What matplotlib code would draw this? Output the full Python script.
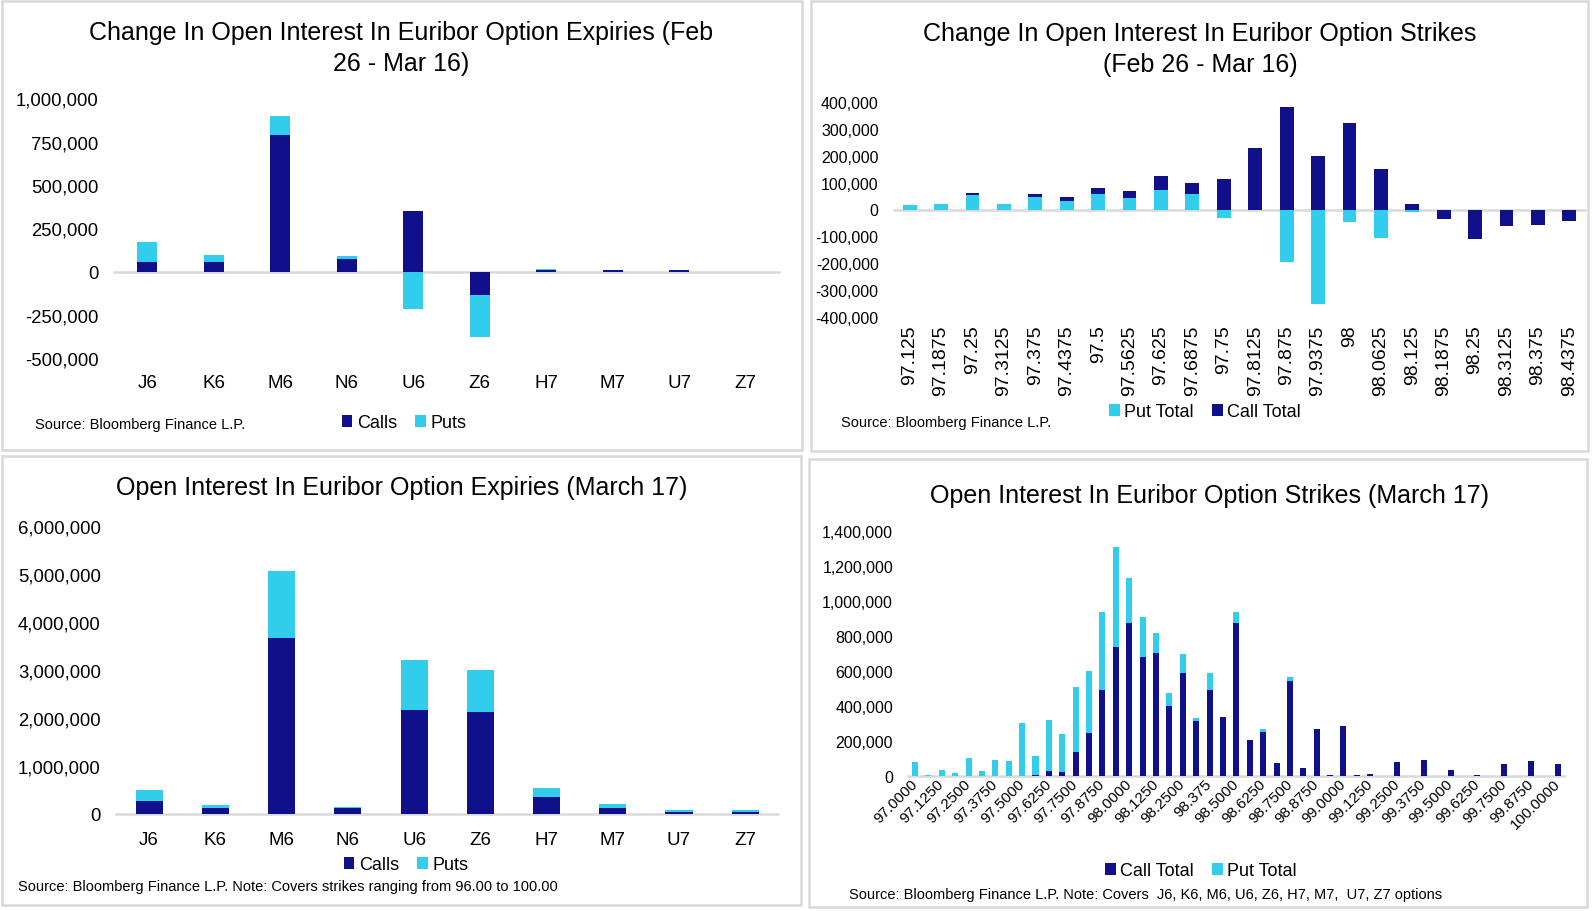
import numpy as np
import matplotlib
matplotlib.use("Agg")
import matplotlib.pyplot as plt
from matplotlib.patches import Rectangle, Patch
from matplotlib.ticker import FuncFormatter

plt.rcParams['font.family'] = ['Liberation Sans', 'DejaVu Sans']

# ---- data ----
expiries = ['J6', 'K6', 'M6', 'N6', 'U6', 'Z6', 'H7', 'M7', 'U7', 'Z7']

# change in open interest by expiry (Feb 26 - Mar 16)
chg_calls = [56000, 56000, 788000, 73000, 350000, -135000, 12000, 7000, 7000, 0]
chg_puts = [115000, 40000, 110000, 17000, -215000, -242000, 5000, 5000, 5000, 0]

# change in open interest by strike (Feb 26 - Mar 16)
chg_strikes = ['97.125', '97.1875', '97.25', '97.3125', '97.375', '97.4375', '97.5',
               '97.5625', '97.625', '97.6875', '97.75', '97.8125', '97.875', '97.9375',
               '98', '98.0625', '98.125', '98.1875', '98.25', '98.3125', '98.375', '98.4375']
chg_put_total = [15000, 19000, 52000, 19000, 48000, 33000, 59000, 41000, 74000, 56000,
                 -33000, 0, -193000, -349000, -48000, -104000, -11000, 0, 0, 0, 0, 0]
chg_call_total = [0, 0, 11000, 0, 11000, 12000, 19000, 26000, 49000, 41000,
                  115000, 230000, 379000, 197000, 320000, 152000, 19000, -37000,
                  -111000, -63000, -59000, -44000]

# open interest by expiry (March 17)
oi_calls = [270000, 125000, 3662000, 125000, 2164000, 2122000, 354000, 125000, 42000, 42000]
oi_puts = [230000, 62000, 1393000, 21000, 1040000, 874000, 187000, 83000, 41000, 41000]

# open interest by strike (March 17)
oi_strikes = ['97.0000', '97.0625', '97.1250', '97.1875', '97.2500', '97.3125', '97.3750',
              '97.4375', '97.5000', '97.5625', '97.6250', '97.6875', '97.7500', '97.8125',
              '97.8750', '97.9375', '98.0000', '98.0625', '98.1250', '98.1875', '98.2500',
              '98.3125', '98.375', '98.4375', '98.5000', '98.5625', '98.6250', '98.6875',
              '98.7500', '98.8125', '98.8750', '98.9375', '99.0000', '99.0625', '99.1250',
              '99.1875', '99.2500', '99.3125', '99.3750', '99.4375', '99.5000', '99.5625',
              '99.6250', '99.6875', '99.7500', '99.8125', '99.8750', '99.9375', '100.0000']
oi_call_total = [0, 0, 0, 0, 0, 0, 0, 0, 0, 6000, 29000, 23000, 137000, 245000, 491000,
                 736000, 873000, 679000, 702000, 400000, 588000, 314000, 491000, 337000,
                 873000, 206000, 251000, 74000, 542000, 46000, 268000, 6000, 285000, 6000,
                 11000, 0, 80000, 0, 91000, 0, 34000, 0, 6000, 0, 69000, 0, 86000, 0, 69000]
oi_put_total = [80000, 6000, 34000, 17000, 103000, 29000, 91000, 86000, 303000, 108000,
                291000, 217000, 371000, 354000, 445000, 571000, 257000, 229000, 114000,
                74000, 109000, 17000, 97000, 0, 63000, 0, 17000, 0, 23000, 0, 0, 0, 0, 0,
                0, 0, 0, 0, 0, 0, 0, 0, 0, 0, 0, 0, 0, 0, 0]

NAVY = '#10108a'
CYAN = '#33cdec'
GRID = '#d9d9d9'
W, H = 1592, 912

fig = plt.figure(figsize=(W / 100, H / 100), dpi=100)


def px_rect(l, t, r, b):
    return [l / W, 1 - b / H, (r - l) / W, (b - t) / H]


def fx(x):
    return x / W


def fy(y):
    return 1 - y / H


# panel frames
for l, t, r, b in [(2, 2, 802, 451), (811, 2, 1588, 452), (2, 457, 801, 906), (809, 460, 1587, 908)]:
    fig.patches.append(Rectangle((fx(l), fy(b)), (r - l) / W, (b - t) / H,
                                 transform=fig.transFigure, fill=False,
                                 edgecolor=GRID, linewidth=1.8))


def stacked(ax, series, colors, width):
    x = np.arange(len(series[0]))
    pos = np.zeros(len(x))
    neg = np.zeros(len(x))
    for vals, c in zip(series, colors):
        v = np.array(vals, dtype=float)
        bottom = np.where(v >= 0, pos, neg)
        ax.bar(x, v, bottom=bottom, width=width, color=c, linewidth=0)
        pos = pos + np.where(v >= 0, v, 0)
        neg = neg + np.where(v < 0, v, 0)
    return x


def style(ax, n, ylim, step, ysize):
    ax.set_xlim(-0.5, n - 0.5)
    ax.set_ylim(*ylim)
    ax.set_yticks(np.arange(ylim[0], ylim[1] + 1, step))
    ax.yaxis.set_major_formatter(FuncFormatter(lambda v, p: f'{v:,.0f}'))
    for s in ax.spines.values():
        s.set_visible(False)
    ax.tick_params(length=0)
    ax.tick_params(axis='y', labelsize=ysize, pad=11)
    ax.axhline(0, color=GRID, linewidth=1.8, zorder=0.5, clip_on=False)


def legend(labels, colors, cx, cy, size):
    handles = [Patch(facecolor=c, edgecolor='none') for c in colors]
    fig.legend(handles, labels, loc='center', bbox_to_anchor=(fx(cx), fy(cy)),
               ncol=2, frameon=False, fontsize=size, handlelength=0.6,
               handleheight=0.6, handletextpad=0.25, columnspacing=1.0)


# ---- top left ----
ax1 = fig.add_axes(px_rect(114, 99.3, 779, 359.3))
x = stacked(ax1, [chg_calls, chg_puts], [NAVY, CYAN], 0.3)
style(ax1, len(expiries), (-500000, 1000000), 250000, 13.3)
ax1.set_xticks(x)
ax1.set_xticklabels(expiries, fontsize=13.5)
ax1.tick_params(axis='x', pad=11)
fig.text(fx(401), fy(48.5), 'Change In Open Interest In Euribor Option Expiries (Feb\n26 - Mar 16)',
         ha='center', va='center', fontsize=18, linespacing=1.4)
legend(['Calls', 'Puts'], [NAVY, CYAN], 404, 424, 13)
fig.text(fx(35), fy(425), 'Source: Bloomberg Finance L.P.', ha='left', va='center', fontsize=10.5)

# ---- top right ----
ax2 = fig.add_axes(px_rect(894, 102.7, 1585, 318.3))
x = stacked(ax2, [chg_put_total, chg_call_total], [CYAN, NAVY], 0.44)
style(ax2, len(chg_strikes), (-400000, 400000), 100000, 11.5)
ax2.set_xticks(x)
ax2.set_xticklabels(chg_strikes, rotation=90, fontsize=14, va='top', ha='center')
ax2.tick_params(axis='x', pad=5)
fig.text(fx(1200), fy(49.5), 'Change In Open Interest In Euribor Option Strikes\n(Feb 26 - Mar 16)',
         ha='center', va='center', fontsize=18, linespacing=1.35)
legend(['Put Total', 'Call Total'], [CYAN, NAVY], 1205, 413, 13)
fig.text(fx(841), fy(423), 'Source: Bloomberg Finance L.P.', ha='left', va='center', fontsize=10.5)

# ---- bottom left ----
ax3 = fig.add_axes(px_rect(116, 526.7, 778.4, 815))
x = stacked(ax3, [oi_calls, oi_puts], [NAVY, CYAN], 0.41)
style(ax3, len(expiries), (0, 6000000), 1000000, 13.3)
ax3.set_xticks(x)
ax3.set_xticklabels(expiries, fontsize=13.5)
ax3.tick_params(axis='x', pad=12)
fig.text(fx(402), fy(488), 'Open Interest In Euribor Option Expiries (March 17)',
         ha='center', va='center', fontsize=18)
legend(['Calls', 'Puts'], [NAVY, CYAN], 406, 866, 13)
fig.text(fx(18), fy(887), 'Source: Bloomberg Finance L.P. Note: Covers strikes ranging from 96.00 to 100.00',
         ha='left', va='center', fontsize=10.5)

# ---- bottom right ----
ax4 = fig.add_axes(px_rect(908.3, 531.7, 1564.4, 777))
x = stacked(ax4, [oi_call_total, oi_put_total], [NAVY, CYAN], 0.45)
style(ax4, len(oi_strikes), (0, 1400000), 200000, 11.5)
ax4.set_xticks(x[::2])
ax4.set_xticklabels(oi_strikes[::2], rotation=45, fontsize=11, ha='right',
                    va='center', rotation_mode='anchor')
ax4.tick_params(axis='x', pad=4)
fig.text(fx(1210), fy(496), 'Open Interest In Euribor Option Strikes (March 17)',
         ha='center', va='center', fontsize=18)
legend(['Call Total', 'Put Total'], [NAVY, CYAN], 1201, 872, 13)
fig.text(fx(849), fy(895),
         'Source: Bloomberg Finance L.P. Note: Covers  J6, K6, M6, U6, Z6, H7, M7,  U7, Z7 options',
         ha='left', va='center', fontsize=10.5)

fig.savefig('out.png', dpi=100, facecolor='white')
